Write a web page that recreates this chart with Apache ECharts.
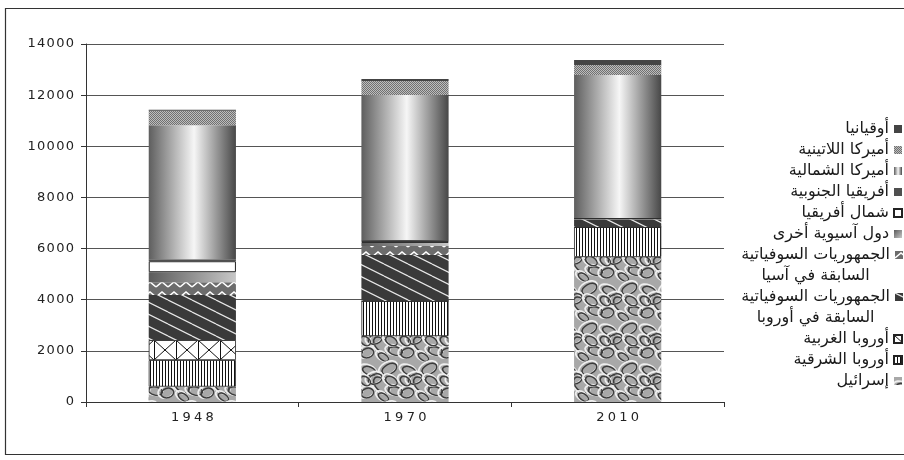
<!DOCTYPE html>
<html><head><meta charset="utf-8">
<script src="https://cdn.jsdelivr.net/npm/echarts@6/dist/echarts.min.js"></script>
<style>html,body{margin:0;padding:0;background:#fff}#c{width:904px;height:460px}</style>
</head><body><div id="c"></div>
<script>
// ---- data (thousands) ----
const categories = ['1948', '1970', '2010'];
const yTicks = [0, 2000, 4000, 6000, 8000, 10000, 12000, 14000];
const israel        = [600, 2580, 5670];
const easternEurope = [1040, 1370, 1170];
const westernEurope = [785, 0, 0];
const fsuEurope     = [1760, 1800, 300];
const fsuAsia       = [500, 350, 20];
const otherAsia     = [390, 120, 15];
const northAfrica   = [430, 80, 10];
const southAfrica   = [80, 35, 10];
const northAmerica  = [5240, 5670, 5595];
const latinAmerica  = [560, 550, 390];
const oceania       = [40, 75, 190];

const N_ISR = 'إسرائيل';
const N_EE = 'أوروبا الشرقية';
const N_WE = 'أوروبا الغربية';
const N_FSUE = 'الجمهوريات السوفياتية السابقة في أوروبا';
const N_FSUA = 'الجمهوريات السوفياتية السابقة في آسيا';
const N_OA = 'دول آسيوية أخرى';
const N_NAF = 'شمال أفريقيا';
const N_SAF = 'أفريقيا الجنوبية';
const N_NAM = 'أميركا الشمالية';
const N_LAM = 'أميركا اللاتينية';
const N_OC = 'أوقيانيا';

// ---- textures ----
function tile(w, h, draw) { const c = document.createElement('canvas'); c.width = w; c.height = h; const g = c.getContext('2d'); draw(g, w, h); return c; }
const texIsrael = tile(40, 40, (g, w, h) => {
  g.fillStyle = '#a8a8a8'; g.fillRect(0, 0, w, h);
  const loops = [[8,10,9,5,0.4],[28,8,10,6,-0.5],[20,24,12,7,0.8],[6,32,8,6,-0.3],[34,30,9,5,0.2],[14,18,6,9,1.2],[30,20,5,8,-1.0],[22,36,7,4,0.6],[4,20,5,7,-0.9]];
  for (let dx = -w; dx <= w; dx += w) for (let dy = -h; dy <= h; dy += h) {
    loops.forEach((l) => {
      g.beginPath(); g.ellipse(l[0] + dx, l[1] + dy, l[2], l[3], l[4], 0, Math.PI * 2);
      g.lineWidth = 1.8; g.strokeStyle = '#eeeeee'; g.stroke();
      g.beginPath(); g.ellipse(l[0] + dx + 1.4, l[1] + dy + 1, l[2] * 0.8, l[3] * 0.8, l[4], 0, Math.PI * 2);
      g.lineWidth = 1.5; g.strokeStyle = '#3c3c3c'; g.stroke();
    });
  }
});
const texVert = tile(3, 4, (g) => { g.fillStyle = '#fff'; g.fillRect(0, 0, 3, 4); g.fillStyle = '#111'; g.fillRect(0, 0, 1, 4); });
const texCross = tile(22, 20, (g, w, h) => {
  g.fillStyle = '#fff'; g.fillRect(0, 0, w, h); g.strokeStyle = '#111'; g.lineWidth = 1;
  g.strokeRect(0.5, 0.5, w, h);
  g.beginPath(); g.moveTo(0, 0); g.lineTo(w, h); g.moveTo(w, 0); g.lineTo(0, h); g.stroke();
});
const texFsuE = tile(24, 12, (g, w, h) => {
  g.fillStyle = '#3a3a3a'; g.fillRect(0, 0, w, h); g.strokeStyle = '#e8e8e8'; g.lineWidth = 1.2;
  for (let k = -1; k <= 1; k++) { g.beginPath(); g.moveTo(0, k * h); g.lineTo(w, h + k * h); g.stroke(); }
});
const texFsuA = tile(12, 10, (g, w, h) => {
  g.fillStyle = '#6c6c6c'; g.fillRect(0, 0, w, h); g.strokeStyle = '#fff'; g.lineWidth = 1.6;
  g.beginPath(); g.moveTo(0, 7); g.lineTo(6, 2); g.lineTo(12, 7); g.stroke();
});
const texDots = tile(2, 2, (g) => { g.fillStyle = '#bdbdbd'; g.fillRect(0, 0, 2, 2); g.fillStyle = '#707070'; g.fillRect(0, 0, 1, 1); g.fillRect(1, 1, 1, 1); });
const pat = (c) => ({ image: c, repeat: 'repeat' });

const styles = {};
styles[N_ISR]  = { color: pat(texIsrael) };
styles[N_EE]   = { color: pat(texVert), borderColor: '#222', borderWidth: 0.8 };
styles[N_WE]   = { color: pat(texCross), borderColor: '#222', borderWidth: 0.8 };
styles[N_FSUE] = { color: pat(texFsuE) };
styles[N_FSUA] = { color: pat(texFsuA) };
styles[N_OA]   = { color: { type: 'linear', x: 0, y: 0, x2: 1, y2: 1, colorStops: [{ offset: 0, color: '#5a5a5a' }, { offset: 1, color: '#c8c8c8' }] } };
styles[N_NAF]  = { color: '#ffffff', borderColor: '#222', borderWidth: 1 };
styles[N_SAF]  = { color: '#4f4f4f' };
styles[N_NAM]  = { color: { type: 'linear', x: 0, y: 0, x2: 1, y2: 0, colorStops: [{ offset: 0, color: '#5e5e5e' }, { offset: 0.52, color: '#f6f6f6' }, { offset: 1, color: '#474747' }] } };
styles[N_LAM]  = { color: pat(texDots) };
styles[N_OC]   = { color: '#444444' };

const stackOrder = [
  [N_ISR, israel], [N_EE, easternEurope], [N_WE, westernEurope], [N_FSUE, fsuEurope], [N_FSUA, fsuAsia],
  [N_OA, otherAsia], [N_NAF, northAfrica], [N_SAF, southAfrica], [N_NAM, northAmerica], [N_LAM, latinAmerica], [N_OC, oceania]
];

const series = stackOrder.map(([name, data]) => ({
  name, type: 'bar', stack: 'total', barWidth: '41%', data,
  itemStyle: Object.assign({ borderWidth: 0 }, styles[name])
}));

const FONT_AR = "'DejaVu Sans', sans-serif";
const FS = 16;
const LH = 21;
function legendBase(extra) {
  return Object.assign({
    orient: 'vertical', right: 1, align: 'right', padding: 0, itemGap: 0,
    itemWidth: 8, itemHeight: 8, icon: 'rect', selectedMode: false,
    textStyle: { fontFamily: FONT_AR, fontSize: FS, color: '#1a1a1a', lineHeight: LH,
      rich: { c: { fontFamily: FONT_AR, fontSize: FS, color: '#1a1a1a', lineHeight: LH, align: 'center' },
              e: { fontFamily: FONT_AR, fontSize: FS, lineHeight: LH } } },
    formatter: function (n) {
      if (n === N_FSUA) return '{e| }\n{c|الجمهوريات السوفياتية}\n{c|السابقة في آسيا}';
      if (n === N_FSUE) return '{e| }\n{c|الجمهوريات السوفياتية}\n{c|السابقة في أوروبا}';
      return n;
    }
  }, extra);
}
const R0 = 129; // centre of first legend row
const legends = [
  legendBase({ top: R0 - LH / 2, data: [N_OC, N_LAM, N_NAM, N_SAF, N_NAF, N_OA] }),
  legendBase({ top: R0 + 6 * LH - 1.5 * LH, data: [N_FSUA] }),
  legendBase({ top: R0 + 8 * LH - 1.5 * LH, data: [N_FSUE] }),
  legendBase({ top: R0 + 10 * LH - LH / 2, data: [N_WE, N_EE, N_ISR] })
];

const chart = echarts.init(document.getElementById('c'), null, { renderer: 'canvas' });
chart.setOption({
  animation: false,
  backgroundColor: '#fff',
  grid: { left: 86, right: 180, top: 44, bottom: 58, containLabel: false },
  xAxis: {
    type: 'category', data: categories,
    axisLine: { show: true, lineStyle: { color: '#333', width: 1 } },
    axisTick: { show: true, length: 5, lineStyle: { color: '#333' } },
    axisLabel: { color: '#222', fontFamily: "'DejaVu Sans', sans-serif", fontSize: 13, margin: 9,
      formatter: v => v.split('').join('\u2005') }
  },
  yAxis: {
    type: 'value', min: yTicks[0], max: yTicks[yTicks.length - 1], interval: 2000,
    axisLine: { show: true, lineStyle: { color: '#333', width: 1 } },
    axisTick: { show: true, length: 5, lineStyle: { color: '#333' } },
    splitLine: { show: true, lineStyle: { color: '#555', width: 1 } },
    axisLabel: { color: '#222', fontFamily: "'DejaVu Sans', sans-serif", fontSize: 13, margin: 12,
      formatter: v => String(v).split('').join('\u200A') }
  },
  legend: legends,
  graphic: [{ type: 'rect', silent: true, shape: { x: 5.5, y: 8.5, width: 910, height: 446 },
    style: { fill: 'none', stroke: '#333', lineWidth: 1.2 } }],
  series
});
</script></body></html>
